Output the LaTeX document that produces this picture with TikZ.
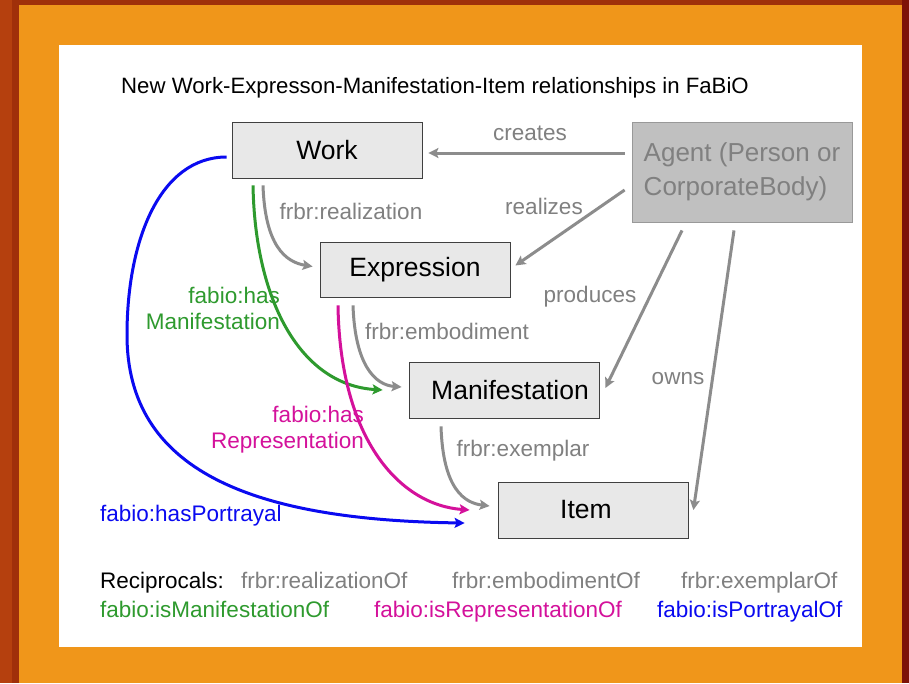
\documentclass[tikz,border=0pt]{standalone}
\usepackage{fontspec}
\setmainfont{Liberation Sans}
\usetikzlibrary{arrows.meta,calc}
\definecolor{frameA}{HTML}{B5400E}
\definecolor{frameB}{HTML}{A0300A}
\definecolor{frameC}{HTML}{7E1208}
\definecolor{bgorange}{HTML}{F0961A}
\definecolor{linegray}{HTML}{8C8C8C}
\definecolor{labelgray}{HTML}{808080}
\definecolor{boxfill}{HTML}{E8E8E8}
\definecolor{boxline}{HTML}{404040}
\definecolor{agentfill}{HTML}{C0C0C0}
\definecolor{agentline}{HTML}{999999}
\definecolor{fgreen}{HTML}{2E9A2E}
\definecolor{fmagenta}{HTML}{D4119B}
\definecolor{fblue}{HTML}{0A0AF0}
\begin{document}
\begin{tikzpicture}[x=1pt,y=-1pt,
  box/.style={draw=boxline, fill=boxfill, line width=0.8pt, minimum width=190pt, minimum height=56pt, inner sep=0pt, font=\fontsize{26.5}{30}\selectfont},
  lbl/.style={font=\fontsize{22.5}{26}\selectfont, inner sep=0pt},
  gl/.style={lbl, text=labelgray},
  tipstyle/.style={-{Stealth[length=10pt,width=10pt,inset=2pt]}},
  garrow/.style={draw=linegray, line width=3pt, tipstyle},
  grarrow/.style={draw=fgreen, line width=3pt, tipstyle},
  marrow/.style={draw=fmagenta, line width=3pt, tipstyle},
  barrow/.style={draw=fblue, line width=3pt, tipstyle}]
\useasboundingbox (0,0) rectangle (909,683);
% frame
\fill[frameA] (0,0) rectangle (909,683);
\fill[frameB] (12,0) rectangle (909,683);
\fill[frameC] (902,0) rectangle (909,683);
\fill[bgorange] (19,5) rectangle (902,683);
\fill[white] (59,45) rectangle (862,647);
% title
\node[lbl, anchor=base west, font=\fontsize{22.2}{26}\selectfont] (title) at (121,93) {New Work-Expresson-Manifestation-Item relationships in FaBiO};
% boxes
\node[box] (work) at (327,150) {Work};
\node[box, minimum height=55pt] (expr) at (415,269.5) {Expression};
\node[box] (manif) at (504,390) {\hspace*{12pt}Manifestation};
\node[box] (item) at (593,510) {\hspace*{-14pt}Item};
\node[draw=agentline, fill=agentfill, line width=0.8pt, minimum width=220pt, minimum height=100pt, inner sep=0pt, align=left, text=labelgray, font=\fontsize{26}{34}\selectfont] (agent) at (742,172) {Agent (Person or\\CorporateBody)};
% agent arrows
\draw[garrow] ($(agent.west)+(-7,-19)$) -- ($(work.east)+(6,3)$);
\draw[garrow] ($(agent.west)+(-7,18)$) -- ($(expr.east)+(5,-4)$);
\draw[garrow] ($(agent.south)+(-60,8)$) -- ($(manif.east)+(6,-2)$);
\draw[garrow] ($(agent.south)+(-8,8)$) -- ($(item.east)+(5,0)$);
% frbr arrows
\draw[garrow] ($(work.south)+(-64,7)$) .. controls (265,245) and (285,262) .. ($(expr.west)+(-7,-3)$);
\draw[garrow] ($(expr.south)+(-62,8)$) .. controls (355,365) and (375,385) .. ($(manif.west)+(-7,-3)$);
\draw[garrow] ($(manif.south)+(-63,8)$) .. controls (443,490) and (465,503) .. ($(item.west)+(-8,-4)$);
% fabio arrows
\draw[grarrow] ($(work.south)+(-74,7)$) .. controls (255,300) and (300,385) .. ($(manif.west)+(-26,0)$);
\draw[marrow] ($(expr.south)+(-77,8)$) .. controls (340,440) and (400,505) .. ($(item.west)+(-28,0)$);
\coordinate (bl) at (127,335);
\draw[barrow] ($(work.west)+(-5,7)$) .. controls (160,157) and (127,240) .. (bl) .. controls (127,470) and (250,520) .. ($(item.west)+(-33,13)$);
% labels
\node[gl] (lcreates) at (530,133) {creates};
\node[gl] (lrealizes) at (544,206) {realizes};
\node[gl] (lrealization) at (351,211) {frbr:realization};
\node[gl] (lproduces) at (590,297) {produces};
\node[gl] (lembodiment) at (447,331) {frbr:embodiment};
\node[gl] (lowns) at (678,379) {owns};
\node[gl] (lexemplar) at (523,451) {frbr:exemplar};
\node[lbl, text=fgreen, align=right, anchor=east] (lhasman) at (280,308) {fabio:has\\Manifestation};
\node[lbl, text=fmagenta, align=right, anchor=east] (lhasrep) at (364,429.5) {fabio:has\\Representation};
\node[lbl, text=fblue, anchor=west] (lhaspor) at (100,516) {fabio:hasPortrayal};
% reciprocals
\node[lbl, anchor=base west] (recip) at (100,588) {Reciprocals:};
\node[gl, anchor=base west] (r1) at (241,588) {frbr:realizationOf};
\node[gl, anchor=base west] (r2) at (452,588) {frbr:embodimentOf};
\node[gl, anchor=base west] (r3) at (681,588) {frbr:exemplarOf};
\node[lbl, text=fgreen, anchor=base west] (r4) at (100,617) {fabio:isManifestationOf};
\node[lbl, text=fmagenta, anchor=base west] (r5) at (374,617) {fabio:isRepresentationOf};
\node[lbl, text=fblue, anchor=base west] (r6) at (657,617) {fabio:isPortrayalOf};
\end{tikzpicture}
\end{document}
